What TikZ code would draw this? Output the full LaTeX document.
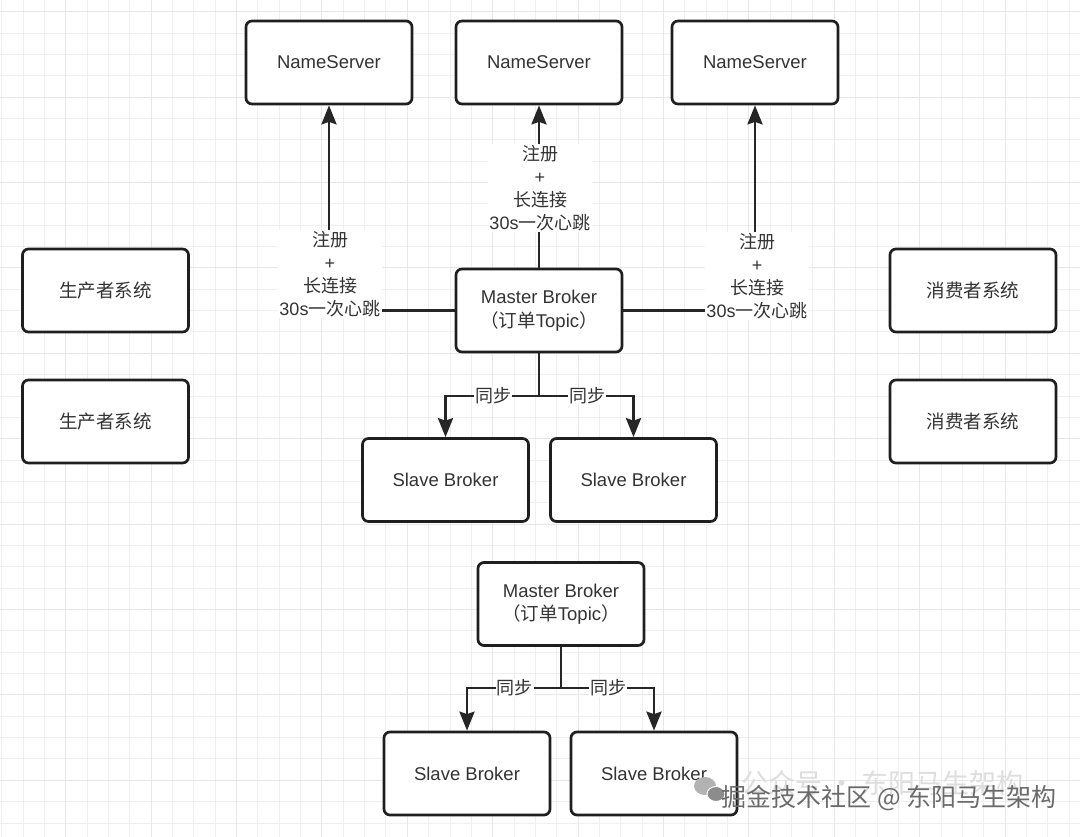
\documentclass[tikz,border=0pt]{standalone}
\usepackage{fontspec}
\setmainfont{Liberation Sans}
\newfontfamily\cjk{Noto Sans CJK SC}
\usetikzlibrary{arrows.meta}
\definecolor{boxc}{HTML}{1F1F1F}
\definecolor{txt}{HTML}{333333}
\definecolor{linec}{HTML}{262626}
\definecolor{gridminor}{HTML}{EFEFEF}
\definecolor{gridmajor}{HTML}{E7E7E7}
\newcommand\zh[1]{{\cjk #1}}
\tikzset{
  box/.style={draw=boxc, line width=2.7pt, rounded corners=6pt, fill=white,
    minimum width=166pt, minimum height=83pt, inner sep=0pt, align=center,
    text=txt, font=\fontsize{18.5}{23.5}\selectfont},
  arr/.style={draw=linec, line width=2.8pt,
    -{Stealth[length=19pt, width=15pt, inset=2.5pt]}},
  plain/.style={draw=linec, line width=2.8pt},
  lbl/.style={fill=white, inner sep=1pt, align=center, text=txt,
    font=\fontsize{18}{22.8}\selectfont},
  gminor/.style={draw=gridminor, line width=1pt},
  gmajor/.style={draw=gridmajor, line width=1pt}
}
\begin{document}
\begin{tikzpicture}[x=1pt,y=-1pt]
\useasboundingbox (0,0) rectangle (1080,837);
\fill[white] (0,0) rectangle (1080,837);
% grid
\foreach \i in {0,...,51}{
  \pgfmathsetmacro\xx{1.65+\i*21.35}
  \draw[gminor] (\xx,0) -- (\xx,837);
}
\foreach \i in {0,...,39}{
  \pgfmathsetmacro\yy{11.7+\i*21.35}
  \draw[gminor] (0,\yy) -- (1080,\yy);
}
\foreach \i in {0,...,12}{
  \pgfmathsetmacro\xx{65.7+\i*85.4}
  \draw[gmajor] (\xx,0) -- (\xx,837);
}
\foreach \i in {0,...,9}{
  \pgfmathsetmacro\yy{11.7+\i*85.4}
  \draw[gmajor] (0,\yy) -- (1080,\yy);
}

% nodes
\node[box] (ns1) at (329,62.5) {NameServer};
\node[box] (ns2) at (539,62.5) {NameServer};
\node[box] (ns3) at (755,62.5) {NameServer};
\node[box] (p1) at (105.5,290.5) {\zh{生产者系统}};
\node[box] (p2) at (105.5,421.5) {\zh{生产者系统}};
\node[box] (c1) at (973,290.5) {\zh{消费者系统}};
\node[box] (c2) at (973,421.5) {\zh{消费者系统}};
\node[box] (mb1) at (539,310.5) {Master Broker\\\zh{（订单}Topic\zh{）}};
\node[box] (sb1) at (445.5,480) {Slave Broker};
\node[box] (sb2) at (633.5,480) {Slave Broker};
\node[box] (mb2) at (561,604) {Master Broker\\\zh{（订单}Topic\zh{）}};
\node[box] (sb3) at (467,773.5) {Slave Broker};
\node[box] (sb4) at (654,773.5) {Slave Broker};

% registration connectors
\draw[arr] (mb1.west) -| (ns1.south);
\draw[arr] (mb1.north) -- (ns2.south);
\draw[arr] (mb1.east) -| (ns3.south);
\node[lbl] (l1) at (330,274) {\zh{注册}\\+\\\zh{长连接}\\30s\zh{一次心跳}};
\node[lbl] (l2) at (540,188) {\zh{注册}\\+\\\zh{长连接}\\30s\zh{一次心跳}};
\node[lbl] (l3) at (757,276) {\zh{注册}\\+\\\zh{长连接}\\30s\zh{一次心跳}};

% sync group 1
\coordinate (j1) at (539,396);
\draw[plain] (mb1.south) -- (j1);
\draw[arr] (j1) -| (sb1.north);
\draw[arr] (j1) -| (sb2.north);
\node[lbl] (s1) at (493,396) {\zh{同步}};
\node[lbl] (s2) at (587,396) {\zh{同步}};

% sync group 2
\coordinate (j2) at (561,688);
\draw[plain] (mb2.south) -- (j2);
\draw[arr] (j2) -| (sb3.north);
\draw[arr] (j2) -| (sb4.north);
\node[lbl] (s3) at (514.5,688) {\zh{同步}};
\node[lbl] (s4) at (608,688) {\zh{同步}};

% watermark
\node[text=black!13, font=\cjk\fontsize{27}{27}\selectfont, anchor=west] (wm1) at (738,783) {公众号 · 东阳马生架构};
\fill[black!30] (705,786) ellipse [x radius=11, y radius=9];
\fill[black!45, draw=white, line width=1pt] (716,794) ellipse [x radius=9, y radius=7.5];
\node[text=black!58, font=\cjk\fontsize{25}{25}\selectfont, anchor=west] (wm2) at (718,798) {掘金技术社区 @ 东阳马生架构};
\end{tikzpicture}
\end{document}
